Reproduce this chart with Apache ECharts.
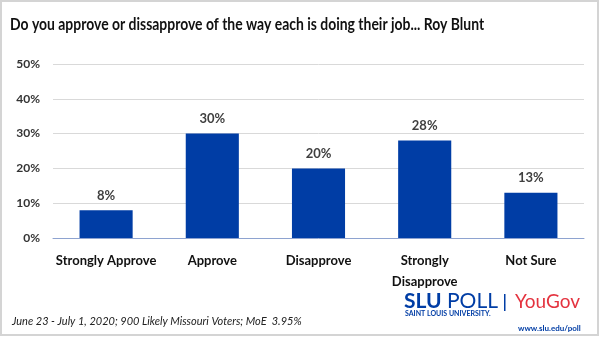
<!DOCTYPE html>
<html><head><meta charset="utf-8">
<script src="https://cdn.jsdelivr.net/npm/echarts@6/dist/echarts.min.js"></script>
<style>html,body{margin:0;padding:0;background:#fff}#c{width:600px;height:337px}</style>
</head><body><div id="c"></div>
<script>
const categories = ['Strongly Approve', 'Approve', 'Disapprove', 'Strongly\nDisapprove', 'Not Sure'];
const values = [8, 30, 20, 28, 13];
const yTicks = [0, 10, 20, 30, 40, 50];
const title = 'Do you approve or dissapprove of the way each is doing their job... Roy Blunt';
const footnote = 'June 23 - July 1, 2020; 900 Likely Missouri Voters; MoE  3.95%';

const chart = echarts.init(document.getElementById('c'), null, {renderer: 'canvas'});
chart.setOption({
  animation: false,
  backgroundColor: '#fff',
  grid: {left: 53, right: 16, top: 64, bottom: 99},
  xAxis: {
    type: 'category', data: categories,
    axisLine: {show: true, lineStyle: {color: '#8ea3d0', width: 1}},
    axisTick: {show: false},
    axisLabel: {fontFamily: 'Lato', fontSize: 13, fontWeight: 'bold', color: '#111', margin: 12, lineHeight: 21, interval: 0}
  },
  yAxis: {
    type: 'value', min: 0, max: 50, interval: 10,
    axisLine: {show: false}, axisTick: {show: false},
    splitLine: {lineStyle: {color: '#d9d9d9', width: 1}},
    axisLabel: {fontFamily: 'Lato', fontSize: 12, fontWeight: 'bold', color: '#333', margin: 13,
      formatter: v => yTicks.includes(v) ? v + '%' : ''}
  },
  series: [{
    type: 'bar', data: values, barWidth: '50%',
    itemStyle: {color: '#003da5'},
    label: {show: true, position: 'top', distance: 8, formatter: p => p.value + '%',
      fontFamily: 'Lato', fontSize: 13, fontWeight: 'bold', color: '#404040'}
  }],
  graphic: [
    {type: 'rect', shape: {x: 1, y: 1, width: 597, height: 334}, style: {fill: 'none', stroke: '#d4d4d4', lineWidth: 2}, silent: true},
    {type: 'text', x: 10, y: 25, scaleX: 0.82, style: {text: title, font: 'bold 17px Lato', fill: '#111', verticalAlign: 'middle'}},
    {type: 'text', x: 12, y: 316, style: {text: footnote, font: 'italic 11px Lato', fill: '#222'}},
    {type: 'text', x: 404, y: 301, style: {text: 'SLU', font: 'bold 21px Lato', fill: '#003da5', verticalAlign: 'middle'}},
    {type: 'text', x: 447, y: 301, style: {text: 'POLL', font: '21px Lato', fill: '#003da5', verticalAlign: 'middle'}},
    {type: 'text', x: 405, y: 314, style: {text: 'SAINT LOUIS UNIVERSITY.', font: 'bold 7px Lato', fill: '#003da5', verticalAlign: 'middle'}},
    {type: 'rect', shape: {x: 504, y: 294, width: 1.5, height: 17}, style: {fill: '#003da5'}},
    {type: 'text', x: 515, y: 302, style: {text: 'YouGov', font: '19px Lato', fill: '#e4333f', verticalAlign: 'middle'}},
    {type: 'text', x: 518, y: 328, style: {text: 'www.slu.edu/poll', font: 'bold 8px Lato', fill: '#003da5', verticalAlign: 'middle'}}
  ]
});
</script></body></html>
